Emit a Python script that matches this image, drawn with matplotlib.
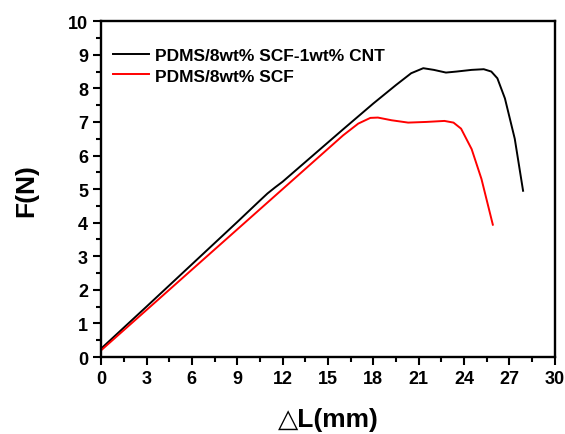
import matplotlib
matplotlib.use("Agg")
import matplotlib.pyplot as plt
from matplotlib.ticker import MultipleLocator

plt.rcParams['font.family'] = ['Liberation Sans', 'DejaVu Sans']
plt.rcParams['font.weight'] = 'bold'

# data (delta L in mm, F in N)
cnt_x = [0, 3, 6, 9, 10.5, 11, 11.5, 12, 14, 16, 18, 19.5, 20.5, 21.3,
         22, 22.8, 23.5, 24.5, 25.3, 25.8, 26.2, 26.7, 27.35, 27.9]
cnt_y = [0.25, 1.5, 2.76, 4.02, 4.66, 4.87, 5.05, 5.22, 6.0, 6.78, 7.55, 8.1, 8.45, 8.6,
         8.55, 8.47, 8.5, 8.55, 8.57, 8.5, 8.3, 7.7, 6.5, 4.95]

scf_x = [0, 3, 6, 9, 11, 12, 14, 16, 17, 17.8, 18.3, 19.2, 20.3, 21.5,
         22.7, 23.3, 23.8, 24.5, 25.15, 25.9]
scf_y = [0.2, 1.4, 2.6, 3.8, 4.6, 5.0, 5.8, 6.6, 6.95, 7.12, 7.13, 7.05, 6.98, 7.0,
         7.03, 6.98, 6.8, 6.19, 5.3, 3.94]

labels = ['PDMS/8wt% SCF-1wt% CNT', 'PDMS/8wt% SCF']

fig = plt.figure(figsize=(5.65, 4.35), dpi=100)
ax = fig.add_axes([0.179, 0.177, 0.803, 0.772])

ax.plot(cnt_x, cnt_y, color='black', lw=1.4, label=labels[0])
ax.plot(scf_x, scf_y, color='red', lw=1.4, label=labels[1])

ax.set_xlim(0, 30)
ax.set_ylim(0, 10)
ax.xaxis.set_major_locator(MultipleLocator(3))
ax.xaxis.set_minor_locator(MultipleLocator(1.5))
ax.yaxis.set_major_locator(MultipleLocator(1))
ax.yaxis.set_minor_locator(MultipleLocator(0.5))
ax.tick_params(which='major', direction='out', length=6, width=1.5, labelsize=13)
ax.tick_params(which='minor', direction='out', length=3.5, width=1.5)
for lab in ax.get_xticklabels() + ax.get_yticklabels():
    lab.set_fontweight('bold')
for s in ax.spines.values():
    s.set_linewidth(1.7)

ax.set_xlabel('△L(mm)', fontsize=19, fontweight='bold', labelpad=14)
ax.set_ylabel('F(N)', fontsize=19, fontweight='bold', labelpad=21)

ax.legend(loc='upper left', bbox_to_anchor=(0.026, 0.92), frameon=False,
          prop={'weight': 'bold', 'size': 12.5}, handlelength=2.1,
          handletextpad=0.35, labelspacing=0.3, borderaxespad=0, borderpad=0)

fig.savefig('out.png', dpi=100)
